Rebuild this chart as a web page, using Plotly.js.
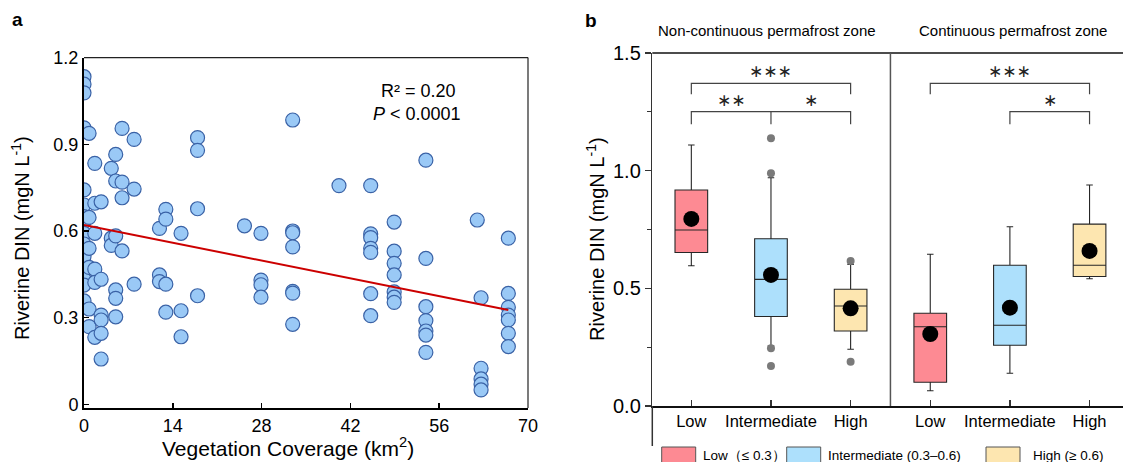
<!DOCTYPE html>
<html>
<head>
<meta charset="utf-8">
<script src="https://cdn.plot.ly/plotly-3.0.1.min.js"></script>
<style>html,body{margin:0;padding:0;background:#fff;}#chart{width:1123px;height:462px;}</style>
</head>
<body>
<div id="chart"></div>
<script>
// ---------- Panel a data ----------
const vegCoverage = [
  0,0,0,0,0,0,0,0,0,0,0,0,0,0,0,
  0.8,0.8,0.8,0.8,0.8,0.8,
  1.7,1.7,1.7,1.7,1.7,1.7,
  2.7,2.7,2.7,2.7,2.7,2.7,
  4.3,4.3,4.3,
  5.0,5.0,5.0,5.0,5.0,5.0,
  6.0,6.0,6.0,6.0,
  7.9,7.9,7.9,
  11.9,11.9,11.9,
  12.9,12.9,12.9,12.9,
  15.3,15.3,15.3,
  17.9,17.9,17.9,17.9,
  25.3,
  27.9,27.9,27.9,27.9,
  32.9,32.9,32.9,32.9,32.9,32.9,32.9,
  40.2,
  45.2,45.2,45.2,45.2,45.2,45.2,45.2,
  48.9,48.9,48.9,48.9,48.9,48.9,48.9,
  53.9,53.9,53.9,53.9,53.9,53.9,53.9,
  62.0,
  62.6,62.6,62.6,62.6,62.6,
  66.9,66.9,66.9,66.9,66.9,66.9,66.9
];
const riverineDIN = [
  1.134,1.108,1.078,0.957,0.742,0.690,0.650,0.632,0.592,0.555,0.532,0.511,0.434,0.413,0.358,
  0.938,0.647,0.540,0.474,0.330,0.269,
  0.834,0.696,0.592,0.468,0.422,0.232,
  0.701,0.433,0.309,0.292,0.246,0.157,
  0.817,0.575,0.550,
  0.865,0.773,0.583,0.396,0.367,0.303,
  0.955,0.769,0.715,0.531,
  0.917,0.745,0.416,
  0.609,0.448,0.425,
  0.675,0.641,0.416,0.319,
  0.592,0.324,0.234,
  0.923,0.879,0.677,0.376,
  0.618,
  0.592,0.430,0.414,0.371,
  0.984,0.600,0.594,0.545,0.391,0.385,0.277,
  0.757,
  0.757,0.590,0.577,0.540,0.526,0.383,0.307,
  0.631,0.530,0.488,0.448,0.389,0.371,0.353,
  0.845,0.505,0.338,0.290,0.254,0.240,0.180,
  0.638,
  0.369,0.125,0.088,0.070,0.050,
  0.575,0.384,0.336,0.309,0.292,0.246,0.200
];
const fitIntercept = 0.621;
const fitSlope = -0.0044;
const fitXRange = [0, 66.9];
const xTicksA = [0, 14, 28, 42, 56, 70];
const yTicksA = [0, 0.3, 0.6, 0.9, 1.2];
const yTickTextA = ['0', '0.3', '0.6', '0.9', '1.2'];

// ---------- Panel b data ----------
const levels = ['Low', 'Intermediate', 'High'];
const zones = ['Non-continuous permafrost zone', 'Continuous permafrost zone'];
const levelLegend = ['Low（≤ 0.3）', 'Intermediate (0.3–0.6)', 'High (≥ 0.6)'];
// Non-continuous zone
const ncLower  = [0.596, 0.256, 0.241];
const ncQ1     = [0.652, 0.380, 0.319];
const ncMedian = [0.748, 0.538, 0.425];
const ncQ3     = [0.918, 0.711, 0.496];
const ncUpper  = [1.109, 0.970, 0.602];
const ncMean   = [0.795, 0.557, 0.415];
const ncOutlierLevel = [1, 1, 1, 1, 2, 2];
const ncOutlierValue = [1.138, 0.989, 0.245, 0.170, 0.616, 0.188];
// Continuous zone
const cLower  = [0.065, 0.139, 0.541];
const cQ1     = [0.101, 0.258, 0.550];
const cMedian = [0.337, 0.343, 0.598];
const cQ3     = [0.394, 0.598, 0.773];
const cUpper  = [0.645, 0.762, 0.939];
const cMean   = [0.306, 0.418, 0.659];
const yTicksB = [0, 0.5, 1.0, 1.5];
const yTickTextB = ['0.0', '0.5', '1.0', '1.5'];

// ---------- styling ----------
const W = 1123, H = 462;
const FONT = 'Liberation Sans, Arial, sans-serif';
const boxColors = ['#fd8a93', '#ade0fc', '#fde6b0'];
const px = v => v / W;
const py = v => 1 - v / H;

const traces = [];
traces.push({
  type: 'scatter', mode: 'markers', x: vegCoverage, y: riverineDIN, xaxis: 'x', yaxis: 'y',
  marker: {size: 14, color: '#9ac9f6', line: {color: '#3a62a6', width: 1.2}},
  hoverinfo: 'skip'
});
traces.push({
  type: 'scatter', mode: 'lines', xaxis: 'x', yaxis: 'y',
  x: fitXRange, y: fitXRange.map(v => fitIntercept + fitSlope * v),
  line: {color: '#cc0000', width: 2}, hoverinfo: 'skip'
});

function addZone(offset, lower, q1, med, q3, upper, mean) {
  levels.forEach((lv, i) => {
    traces.push({
      type: 'box', xaxis: 'x2', yaxis: 'y2',
      x: [offset + i], q1: [q1[i]], median: [med[i]], q3: [q3[i]],
      lowerfence: [lower[i]], upperfence: [upper[i]],
      width: 0.41, whiskerwidth: 0.2,
      fillcolor: boxColors[i], line: {color: '#262626', width: 1.1},
      boxpoints: false, hoverinfo: 'skip', name: lv
    });
  });
  traces.push({
    type: 'scatter', mode: 'markers', xaxis: 'x2', yaxis: 'y2',
    x: levels.map((_, i) => offset + i), y: mean,
    marker: {size: 16, color: '#000'}, hoverinfo: 'skip'
  });
}
addZone(0, ncLower, ncQ1, ncMedian, ncQ3, ncUpper, ncMean);
addZone(3, cLower, cQ1, cMedian, cQ3, cUpper, cMean);
traces.push({
  type: 'scatter', mode: 'markers', xaxis: 'x2', yaxis: 'y2',
  x: ncOutlierLevel, y: ncOutlierValue,
  marker: {size: 8, color: '#7a7a7a'}, hoverinfo: 'skip'
});

const shapes = [
  {type: 'line', xref: 'x domain', yref: 'y domain', x0: 0, x1: 1, y0: 1, y1: 1, line: {color: '#222', width: 1.2}},
  {type: 'line', xref: 'x domain', yref: 'y domain', x0: 1, x1: 1, y0: 0, y1: 1, line: {color: '#222', width: 1.2}},
  {type: 'line', xref: 'x2 domain', yref: 'y2 domain', x0: 0, x1: 1, y0: 1, y1: 1, line: {color: '#111', width: 1.5}},
  {type: 'line', xref: 'x2', yref: 'y2', x0: 2.5, x1: 2.5, y0: 0, y1: 1.5, line: {color: '#555', width: 1.5}},
  {type: 'line', xref: 'x2 domain', yref: 'paper', x0: 0, x1: 0, y0: py(446), y1: py(406), line: {color: '#333', width: 1.5}},
  {type: 'path', xref: 'x2', yref: 'y2', path: 'M0,1.325 L0,1.371 L2,1.371 L2,1.325', line: {color: '#444', width: 1.2}},
  {type: 'path', xref: 'x2', yref: 'y2', path: 'M0,1.197 L0,1.251 L2,1.251 L2,1.197 M1,1.251 L1,1.197', line: {color: '#444', width: 1.2}},
  {type: 'path', xref: 'x2', yref: 'y2', path: 'M3,1.325 L3,1.371 L5,1.371 L5,1.325', line: {color: '#444', width: 1.2}},
  {type: 'path', xref: 'x2', yref: 'y2', path: 'M4,1.197 L4,1.251 L5,1.251 L5,1.197', line: {color: '#444', width: 1.2}}
];
const legendX = [661.7, 786.7, 986];
legendX.forEach((x, i) => {
  shapes.push({type: 'rect', xref: 'paper', yref: 'paper', x0: px(x), x1: px(x + 34), y0: py(463), y1: py(447),
    fillcolor: boxColors[i], line: {color: '#555', width: 1}});
});

function ann(text, x, y, size, extra) {
  return Object.assign({text: text, x: px(x), y: py(y), xref: 'paper', yref: 'paper',
    xanchor: 'center', yanchor: 'middle', showarrow: false, font: {size: size}}, extra || {});
}
const STAR = {family: 'DejaVu Sans', size: 17, color: '#222'};
function star(text, x, y) {
  return {text: text, x: x, y: y, xref: 'x2', yref: 'y2', xanchor: 'center', yanchor: 'middle', showarrow: false, font: STAR};
}
const annotations = [
  ann('<b>a</b>', 17, 20, 19),
  ann('<b>b</b>', 591, 21, 19),
  ann('R² = 0.20', 418, 91, 18),
  ann('<i>P</i> < 0.0001', 417, 114, 18),
  ann('Riverine DIN (mgN L<sup>-1</sup>)', 20, 238, 20, {textangle: -90}),
  ann('Vegetation Coverage (km<sup>2</sup>)', 288, 447, 21),
  ann('Riverine DIN (mgN L<sup>-1</sup>)', 596, 239, 20, {textangle: -90}),
  ann(zones[0], 767, 30, 15),
  ann(zones[1], 1013, 30, 15),
  star('∗∗∗', 1, 1.424),
  star('∗∗', 0.5, 1.30),
  star('∗', 1.5, 1.30),
  star('∗∗∗', 4, 1.424),
  star('∗', 4.5, 1.30)
];
const legendTextX = [701, 826, 1031];
legendTextX.forEach((x, i) => {
  annotations.push(ann(levelLegend[i], x, 455, 13.5, {xanchor: 'left'}));
});

const layout = {
  width: W, height: H,
  margin: {l: 0, r: 0, t: 0, b: 0},
  paper_bgcolor: '#fff', plot_bgcolor: 'rgba(0,0,0,0)',
  showlegend: false,
  font: {family: FONT, color: '#000'},
  xaxis: {
    domain: [px(84), px(528)], range: [0, 70], anchor: 'y',
    tickvals: xTicksA, ticktext: xTicksA.map(String),
    ticks: 'inside', ticklen: 5, tickwidth: 1.5, tickcolor: '#000',
    showline: true, linewidth: 2, linecolor: '#000',
    showgrid: false, zeroline: false, tickfont: {size: 18}
  },
  yaxis: {
    domain: [py(408), py(57.6)], range: [-0.0125, 1.2], anchor: 'x',
    tickvals: yTicksA, ticktext: yTickTextA,
    ticks: 'inside', ticklen: 5, tickwidth: 1.5, tickcolor: '#000',
    showline: true, linewidth: 2, linecolor: '#000',
    showgrid: false, zeroline: false, tickfont: {size: 18}
  },
  xaxis2: {
    domain: [px(652.3), 1], range: [-0.49, 5.42], anchor: 'y2',
    tickvals: [0, 1, 2, 3, 4, 5], ticktext: levels.concat(levels),
    ticks: 'inside', ticklen: 6, tickwidth: 1.2, tickcolor: '#333',
    showline: true, linewidth: 1.5, linecolor: '#111',
    showgrid: false, zeroline: false, tickfont: {size: 16.5}
  },
  yaxis2: {
    domain: [py(406), py(53)], range: [0, 1.5], anchor: 'x2',
    tickvals: yTicksB, ticktext: yTickTextB,
    ticks: 'outside', ticklen: 6, tickwidth: 1.2, tickcolor: '#333',
    minor: {tickvals: [0.25, 0.75, 1.25], ticks: 'outside', ticklen: 4, tickcolor: '#333'},
    showline: true, linewidth: 1.5, linecolor: '#333',
    showgrid: false, zeroline: false, tickfont: {size: 20}
  },
  shapes: shapes,
  annotations: annotations
};

Plotly.newPlot('chart', traces, layout, {staticPlot: true, displayModeBar: false});
</script>
</body>
</html>
